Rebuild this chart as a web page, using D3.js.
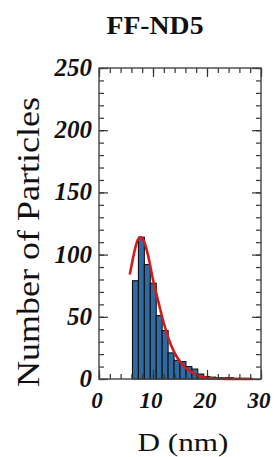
<!DOCTYPE html>
<html><head><meta charset="UTF-8">
<title>FF-ND5</title>
<script src="https://cdn.jsdelivr.net/npm/d3@7/dist/d3.min.js"></script>
<style>
  body { margin: 0; background: #fff; }
  svg text { font-family: "Liberation Serif", "Times New Roman", serif; fill: #111; }
  .tick-label { font-weight: bold; font-style: italic; }
</style>
</head>
<body>
<svg width="278" height="457"></svg>
<script>
  //begin: data
  var binStart = 6.2, binWidth = 1.1;
  var counts = [79, 114, 92, 77, 51, 39, 21, 15, 14, 10, 8, 4, 2, 1.5, 1, 1, 1, 0.5, 0.5, 0.5];
  var fitX = [5.7, 6.2, 6.7, 7.2, 7.7, 8.3, 9, 10, 11, 12, 13, 14, 15, 16, 17, 18, 19, 20, 21, 22, 24, 26, 28.5];
  var fitY = [84, 95, 105, 112, 114, 111, 101, 80, 62, 45, 31, 21, 14, 9, 6, 3.5, 1.8, 0.9, 0.4, 0.2, 0.1, 0.05, 0.02];
  var xTicks = [0, 10, 20, 30];
  var yTicks = [0, 50, 100, 150, 200, 250];
  //end: data

  //begin: layout conf.
  var plotLeft = 99, plotRight = 261, plotTop = 68, plotBottom = 379;
  //end: layout conf.

  var svg = d3.select("svg");

  var x = d3.scaleLinear().domain([0, 30]).range([plotLeft, plotRight]);
  var y = d3.scaleLinear().domain([0, 250]).range([plotBottom, plotTop]);

  // title
  svg.append("text")
    .attr("x", 155).attr("y", 34)
    .attr("text-anchor", "middle")
    .attr("font-size", 25).attr("font-weight", "bold")
    .attr("textLength", 97).attr("lengthAdjust", "spacingAndGlyphs")
    .text("FF-ND5");

  // bars
  svg.append("g").selectAll("rect")
    .data(counts)
    .enter().append("rect")
      .attr("x", function(d, i){ return x(binStart + i*binWidth); })
      .attr("width", function(d, i){ return x(binStart + (i+1)*binWidth) - x(binStart + i*binWidth); })
      .attr("y", function(d){ return y(d); })
      .attr("height", function(d){ return y(0) - y(d); })
      .attr("fill", "#2f6aa3")
      .attr("stroke", "#111")
      .attr("stroke-width", 1.1);

  // fit curve
  var line = d3.line()
    .x(function(d){ return x(d[0]); })
    .y(function(d){ return y(d[1]); })
    .curve(d3.curveMonotoneX);
  svg.append("path")
    .datum(d3.zip(fitX, fitY))
    .attr("d", line)
    .attr("fill", "none")
    .attr("stroke", "#d01c1c")
    .attr("stroke-width", 2.6);

  // axes with inward ticks on all sides
  var minorX = d3.range(0, 31, 2), minorY = d3.range(0, 251, 10);
  function addAxis(axis, transform) {
    svg.append("g").attr("transform", transform).call(axis)
      .call(function(g){ g.select(".domain").remove(); g.selectAll("text").remove(); })
      .selectAll("line").attr("stroke", "#333").attr("stroke-width", 1.2);
  }
  addAxis(d3.axisBottom(x).tickValues(minorX).tickSize(-5), "translate(0," + plotBottom + ")");
  addAxis(d3.axisBottom(x).tickValues(xTicks).tickSize(-9), "translate(0," + plotBottom + ")");
  addAxis(d3.axisTop(x).tickValues(minorX).tickSize(-5), "translate(0," + plotTop + ")");
  addAxis(d3.axisTop(x).tickValues(xTicks).tickSize(-9), "translate(0," + plotTop + ")");
  addAxis(d3.axisLeft(y).tickValues(minorY).tickSize(-5), "translate(" + plotLeft + ",0)");
  addAxis(d3.axisLeft(y).tickValues(yTicks).tickSize(-9), "translate(" + plotLeft + ",0)");
  addAxis(d3.axisRight(y).tickValues(minorY).tickSize(-5), "translate(" + plotRight + ",0)");
  addAxis(d3.axisRight(y).tickValues(yTicks).tickSize(-9), "translate(" + plotRight + ",0)");

  // frame
  svg.append("rect")
    .attr("x", plotLeft).attr("y", plotTop)
    .attr("width", plotRight - plotLeft).attr("height", plotBottom - plotTop)
    .attr("fill", "none").attr("stroke", "#444").attr("stroke-width", 1.4);

  // tick labels
  svg.append("g").selectAll("text")
    .data(xTicks).enter().append("text")
      .attr("class", "tick-label")
      .attr("x", function(d){ return x(d) - 2; })
      .attr("y", 408)
      .attr("text-anchor", "middle")
      .attr("font-size", 23)
      .text(function(d){ return d; });

  svg.append("g").selectAll("text")
    .data(yTicks).enter().append("text")
      .attr("class", "tick-label")
      .attr("x", plotLeft - 7)
      .attr("y", function(d){ return y(d) + 8; })
      .attr("text-anchor", "end")
      .attr("font-size", 25)
      .text(function(d){ return d; });

  // axis titles
  svg.append("text")
    .attr("x", 183).attr("y", 451)
    .attr("text-anchor", "middle")
    .attr("font-size", 25)
    .attr("textLength", 91).attr("lengthAdjust", "spacingAndGlyphs")
    .text("D (nm)");

  svg.append("text")
    .attr("transform", "translate(39,242) rotate(-90)")
    .attr("text-anchor", "middle")
    .attr("font-size", 31)
    .attr("textLength", 290).attr("lengthAdjust", "spacingAndGlyphs")
    .text("Number of Particles");
</script>
</body></html>
